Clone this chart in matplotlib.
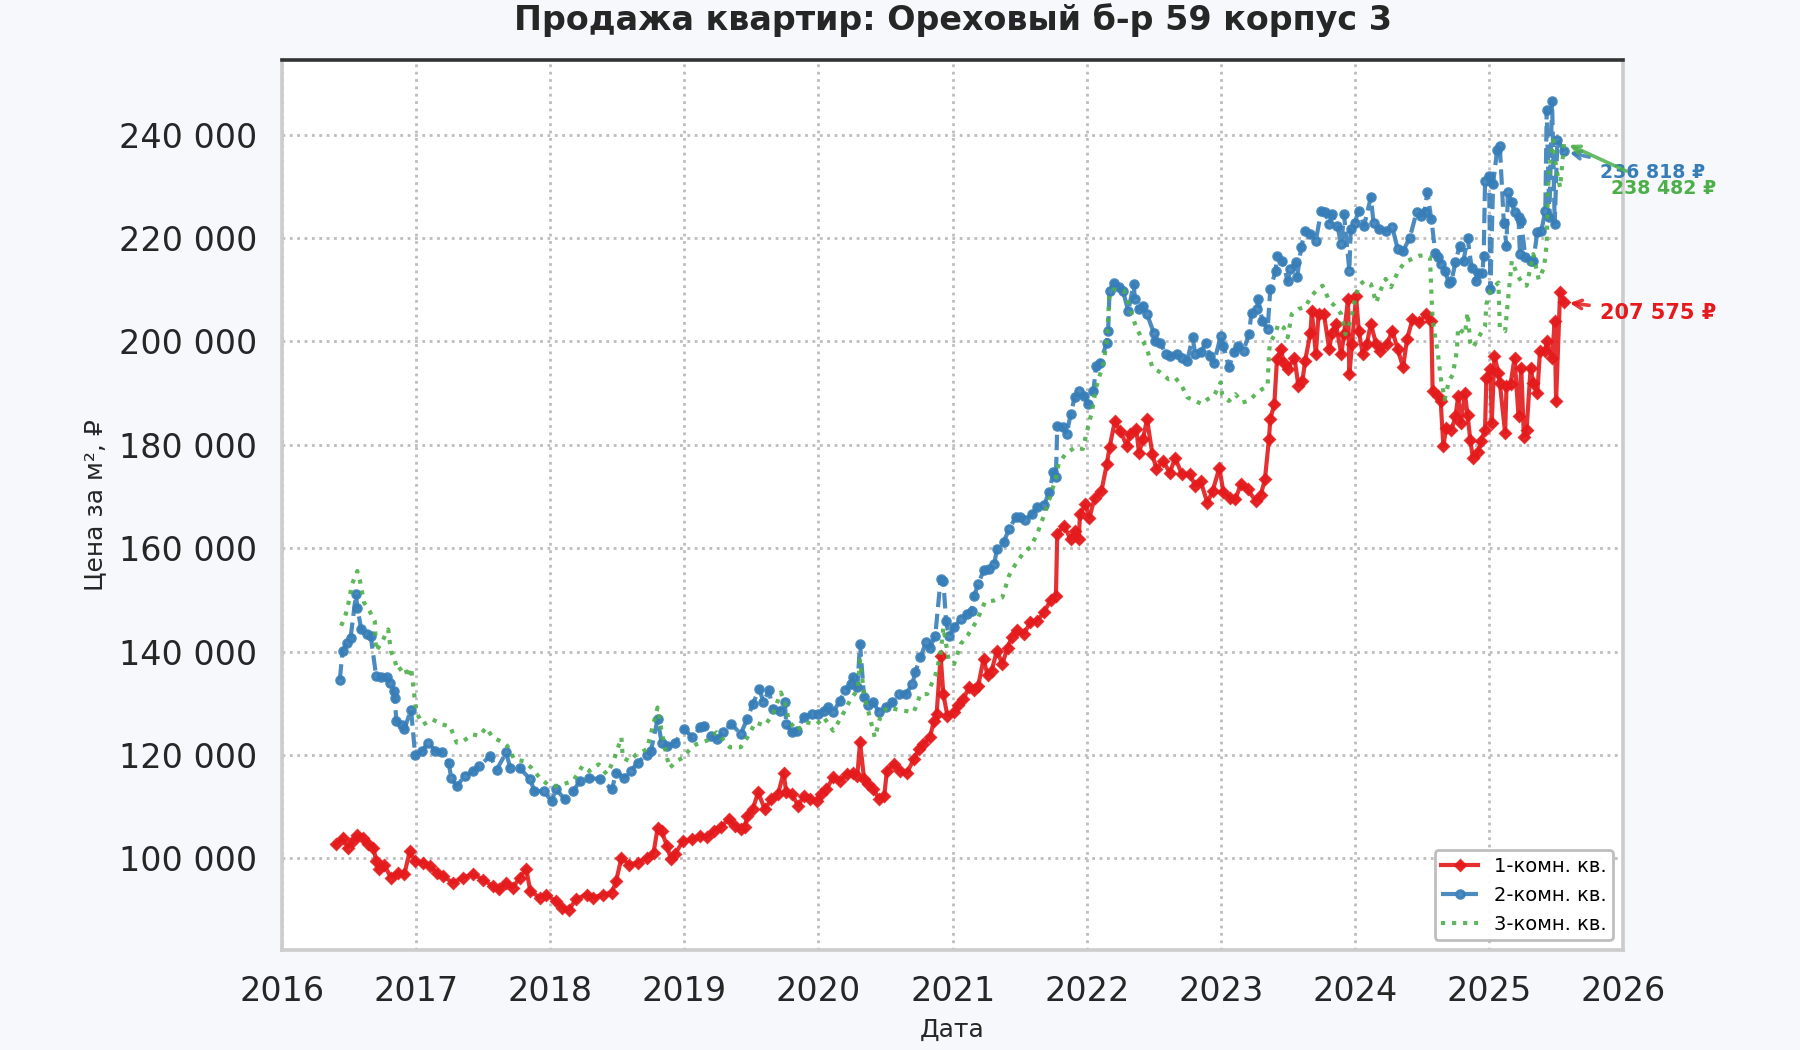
import numpy as np
import pandas as pd
import matplotlib
matplotlib.use("Agg")
import matplotlib.pyplot as plt
import matplotlib.dates as mdates
from matplotlib.ticker import FuncFormatter

# decimal years and prices (thousand rub per m2)
t1 = [2016.40, 2016.45, 2016.49, 2016.53, 2016.56, 2016.60, 2016.64, 2016.68, 2016.70, 2016.72,
      2016.76, 2016.81, 2016.86, 2016.91, 2016.95, 2016.99, 2017.05, 2017.10, 2017.15, 2017.20,
      2017.27, 2017.35, 2017.42, 2017.50, 2017.57, 2017.62, 2017.67, 2017.72, 2017.77, 2017.82,
      2017.85, 2017.92, 2017.97, 2018.04, 2018.09, 2018.14, 2018.19, 2018.27, 2018.32, 2018.39,
      2018.46, 2018.49, 2018.53, 2018.59, 2018.65, 2018.72, 2018.77, 2018.80, 2018.83, 2018.87,
      2018.90, 2018.93, 2018.99, 2019.06, 2019.12, 2019.17, 2019.22, 2019.27, 2019.33, 2019.38,
      2019.42, 2019.45, 2019.47, 2019.51, 2019.55, 2019.60, 2019.65, 2019.70, 2019.74, 2019.76,
      2019.80, 2019.85, 2019.89, 2019.94, 2019.99, 2020.02, 2020.06, 2020.11, 2020.16, 2020.21,
      2020.26, 2020.29, 2020.31, 2020.34, 2020.37, 2020.41, 2020.45, 2020.49, 2020.51, 2020.56,
      2020.61, 2020.66, 2020.71, 2020.75, 2020.78, 2020.83, 2020.86, 2020.88, 2020.91, 2020.93,
      2020.96, 2021.01, 2021.04, 2021.08, 2021.12, 2021.16, 2021.19, 2021.23, 2021.26, 2021.29,
      2021.33, 2021.37, 2021.41, 2021.44, 2021.48, 2021.53, 2021.58, 2021.63, 2021.68, 2021.73,
      2021.77, 2021.78, 2021.83, 2021.88, 2021.91, 2021.94, 2021.95, 2021.99, 2022.02, 2022.06,
      2022.11, 2022.15, 2022.17, 2022.21, 2022.25, 2022.30, 2022.32, 2022.37, 2022.39, 2022.42,
      2022.45, 2022.49, 2022.52, 2022.57, 2022.62, 2022.66, 2022.71, 2022.77, 2022.81, 2022.85,
      2022.90, 2022.94, 2022.99, 2023.02, 2023.07, 2023.11, 2023.15, 2023.20, 2023.26, 2023.30,
      2023.33, 2023.36, 2023.37, 2023.40, 2023.42, 2023.45, 2023.47, 2023.50, 2023.55, 2023.58,
      2023.61, 2023.63, 2023.67, 2023.68, 2023.71, 2023.73, 2023.77, 2023.81, 2023.83, 2023.86,
      2023.90, 2023.92, 2023.95, 2023.96, 2023.98, 2024.01, 2024.03, 2024.06, 2024.09, 2024.12,
      2024.16, 2024.19, 2024.24, 2024.28, 2024.32, 2024.36, 2024.39, 2024.43, 2024.48, 2024.53,
      2024.57, 2024.58, 2024.62, 2024.64, 2024.66, 2024.68, 2024.72, 2024.75, 2024.77, 2024.79,
      2024.82, 2024.84, 2024.86, 2024.88, 2024.92, 2024.94, 2024.97, 2024.98, 2025.01, 2025.02,
      2025.04, 2025.07, 2025.08, 2025.12, 2025.13, 2025.16, 2025.19, 2025.22, 2025.24, 2025.26,
      2025.28, 2025.31, 2025.33, 2025.36, 2025.38, 2025.42, 2025.43, 2025.47, 2025.49, 2025.50,
      2025.53, 2025.56]
v1 = [102.7, 104.0, 102.1, 103.4, 104.5, 104.0, 102.7, 102.1, 99.5, 97.9,
      98.8, 96.3, 97.2, 96.9, 101.4, 99.5, 99.2, 98.5, 97.2, 96.6,
      95.3, 96.3, 96.9, 95.9, 94.6, 94.0, 95.3, 94.3, 96.3, 97.9,
      93.7, 92.4, 93.0, 91.7, 90.5, 90.1, 92.1, 93.0, 92.4, 93.0,
      93.4, 95.6, 100.1, 98.8, 99.2, 100.1, 101.1, 105.9, 105.3, 102.4,
      99.8, 100.8, 103.4, 103.7, 104.4, 104.1, 105.4, 106.0, 107.6, 106.3,
      105.7, 106.0, 108.3, 109.5, 112.8, 109.5, 111.5, 112.5, 116.6, 112.8,
      112.5, 110.2, 112.1, 111.5, 111.2, 112.5, 113.4, 115.7, 115.0, 116.3,
      116.6, 116.0, 122.5, 115.4, 114.4, 113.4, 111.5, 112.1, 117.0, 118.3,
      117.0, 116.6, 119.2, 121.2, 122.1, 123.4, 126.6, 127.9, 139.2, 131.8,
      127.6, 128.3, 129.6, 130.8, 133.1, 132.5, 133.4, 138.6, 135.4, 136.3,
      140.2, 137.6, 140.8, 142.8, 144.1, 143.4, 145.7, 146.0, 147.6, 149.9,
      150.8, 162.8, 164.4, 161.7, 163.4, 161.7, 166.6, 168.5, 165.9, 169.8,
      171.1, 176.3, 179.5, 184.6, 182.7, 179.8, 182.1, 183.0, 178.5, 181.1,
      185.0, 178.2, 175.3, 176.9, 174.6, 177.5, 174.3, 174.3, 172.1, 173.0,
      168.8, 171.1, 175.6, 170.8, 169.8, 169.5, 172.4, 171.4, 169.2, 170.4,
      173.4, 181.1, 185.0, 187.9, 196.6, 198.5, 195.9, 194.6, 196.9, 191.4,
      192.4, 196.3, 201.7, 205.9, 197.5, 205.3, 205.3, 198.5, 201.7, 203.4,
      197.5, 201.4, 208.2, 193.7, 199.5, 208.8, 202.1, 197.5, 199.5, 203.4,
      199.5, 198.2, 199.5, 202.1, 198.5, 195.0, 200.5, 204.3, 203.7, 205.3,
      204.0, 190.4, 189.4, 188.4, 179.7, 183.3, 182.9, 185.5, 189.4, 184.2,
      190.0, 185.8, 181.0, 177.4, 178.7, 180.7, 182.9, 193.0, 194.6, 184.2,
      197.2, 193.9, 192.0, 182.3, 191.3, 191.7, 196.8, 185.5, 194.9, 181.6,
      182.9, 194.9, 192.0, 190.0, 198.1, 198.1, 200.1, 196.8, 204.0, 188.4,
      209.5, 207.575]

t2 = [2016.43, 2016.45, 2016.48, 2016.51, 2016.55, 2016.56, 2016.59, 2016.63, 2016.66, 2016.70,
      2016.74, 2016.78, 2016.80, 2016.83, 2016.84, 2016.85, 2016.89, 2016.91, 2016.96, 2016.99,
      2017.04, 2017.09, 2017.14, 2017.19, 2017.24, 2017.26, 2017.30, 2017.36, 2017.42, 2017.47,
      2017.55, 2017.60, 2017.67, 2017.70, 2017.77, 2017.85, 2017.88, 2017.95, 2018.01, 2018.04,
      2018.11, 2018.17, 2018.22, 2018.29, 2018.37, 2018.46, 2018.49, 2018.55, 2018.60, 2018.65,
      2018.72, 2018.75, 2018.80, 2018.83, 2018.87, 2018.93, 2019.00, 2019.06, 2019.12, 2019.15,
      2019.20, 2019.24, 2019.29, 2019.35, 2019.42, 2019.47, 2019.51, 2019.56, 2019.59, 2019.63,
      2019.66, 2019.71, 2019.75, 2019.76, 2019.80, 2019.84, 2019.89, 2019.95, 2020.00, 2020.04,
      2020.07, 2020.11, 2020.16, 2020.20, 2020.24, 2020.26, 2020.29, 2020.31, 2020.34, 2020.37,
      2020.41, 2020.45, 2020.50, 2020.55, 2020.60, 2020.65, 2020.70, 2020.72, 2020.76, 2020.80,
      2020.83, 2020.87, 2020.91, 2020.93, 2020.95, 2020.97, 2021.01, 2021.06, 2021.11, 2021.14,
      2021.16, 2021.19, 2021.23, 2021.27, 2021.31, 2021.33, 2021.38, 2021.42, 2021.47, 2021.50,
      2021.54, 2021.59, 2021.63, 2021.68, 2021.72, 2021.75, 2021.77, 2021.78, 2021.82, 2021.85,
      2021.88, 2021.91, 2021.94, 2021.98, 2022.01, 2022.05, 2022.07, 2022.10, 2022.15, 2022.16,
      2022.17, 2022.20, 2022.24, 2022.27, 2022.31, 2022.35, 2022.36, 2022.39, 2022.42, 2022.45,
      2022.50, 2022.51, 2022.55, 2022.59, 2022.62, 2022.67, 2022.71, 2022.75, 2022.79, 2022.81,
      2022.85, 2022.89, 2022.92, 2022.95, 2023.00, 2023.02, 2023.06, 2023.10, 2023.13, 2023.17,
      2023.21, 2023.23, 2023.27, 2023.28, 2023.31, 2023.35, 2023.37, 2023.41, 2023.42, 2023.46,
      2023.50, 2023.52, 2023.56, 2023.57, 2023.60, 2023.63, 2023.67, 2023.71, 2023.75, 2023.78,
      2023.81, 2023.83, 2023.87, 2023.90, 2023.92, 2023.96, 2023.97, 2024.00, 2024.03, 2024.07,
      2024.12, 2024.14, 2024.18, 2024.23, 2024.28, 2024.32, 2024.36, 2024.41, 2024.46, 2024.49,
      2024.52, 2024.54, 2024.57, 2024.60, 2024.62, 2024.64, 2024.67, 2024.70, 2024.72, 2024.75,
      2024.78, 2024.81, 2024.84, 2024.87, 2024.90, 2024.92, 2024.95, 2024.96, 2024.97, 2025.00,
      2025.01, 2025.03, 2025.06, 2025.08, 2025.11, 2025.13, 2025.14, 2025.17, 2025.19, 2025.22,
      2025.23, 2025.24, 2025.27, 2025.31, 2025.33, 2025.36, 2025.39, 2025.42, 2025.43, 2025.45,
      2025.47, 2025.49, 2025.51, 2025.56]
v2 = [134.6, 140.1, 141.7, 142.7, 151.1, 148.5, 144.3, 143.4, 143.0, 135.3,
      135.0, 135.0, 134.0, 132.4, 131.1, 126.6, 125.9, 125.0, 128.8, 120.1,
      120.8, 122.4, 120.8, 120.5, 118.5, 115.6, 114.0, 115.9, 116.9, 117.9,
      119.8, 117.2, 120.5, 117.5, 117.5, 115.3, 113.0, 113.0, 111.1, 113.4,
      111.4, 113.0, 115.0, 115.6, 115.3, 113.4, 116.6, 115.6, 116.9, 118.5,
      120.1, 120.8, 126.9, 122.4, 121.7, 122.4, 125.0, 123.4, 125.4, 125.7,
      123.7, 123.1, 124.4, 126.0, 124.1, 127.0, 129.9, 132.8, 130.2, 132.5,
      128.9, 128.6, 130.2, 126.0, 124.4, 124.7, 127.3, 127.9, 127.9, 128.6,
      129.2, 128.3, 130.5, 132.5, 133.7, 135.0, 133.1, 141.5, 131.2, 129.6,
      130.2, 128.3, 129.2, 130.2, 131.8, 131.8, 133.7, 136.0, 138.9, 141.8,
      140.8, 143.1, 154.1, 153.7, 146.0, 143.1, 144.7, 146.3, 147.3, 147.9,
      150.8, 153.1, 155.7, 156.0, 157.0, 159.9, 161.2, 163.7, 166.0, 166.0,
      165.4, 166.6, 167.9, 168.3, 170.8, 174.7, 173.7, 183.7, 183.4, 182.1,
      185.9, 189.2, 190.5, 189.5, 187.9, 190.5, 195.3, 195.9, 199.8, 202.1,
      209.8, 211.4, 210.5, 209.8, 205.9, 211.1, 208.2, 206.3, 206.9, 205.3,
      201.7, 200.1, 199.8, 197.5, 197.2, 197.5, 196.9, 196.3, 200.8, 197.5,
      197.9, 199.8, 197.2, 195.9, 201.1, 199.2, 195.0, 197.9, 199.2, 198.2,
      201.4, 205.6, 206.3, 208.2, 204.0, 202.4, 210.1, 213.7, 216.6, 215.6,
      211.7, 214.0, 215.3, 212.4, 218.2, 221.4, 220.8, 219.5, 225.3, 225.0,
      222.7, 224.6, 222.4, 218.8, 224.6, 213.7, 221.7, 223.0, 225.3, 222.4,
      227.9, 223.0, 221.7, 221.4, 222.1, 217.9, 217.5, 220.1, 225.0, 224.3,
      225.0, 228.9, 223.7, 217.2, 216.3, 215.0, 213.7, 211.4, 211.7, 215.3,
      218.5, 215.6, 220.1, 214.3, 211.7, 213.3, 213.3, 216.6, 231.1, 232.1,
      210.1, 230.5, 237.0, 237.9, 223.0, 218.5, 228.9, 226.9, 225.0, 224.0,
      216.9, 223.4, 216.3, 215.6, 215.6, 221.1, 221.4, 225.3, 244.8, 224.0,
      246.6, 222.8, 239.0, 236.818]

t3 = [2016.44, 2016.47, 2016.49, 2016.52, 2016.56, 2016.58, 2016.61, 2016.65, 2016.69, 2016.70,
      2016.74, 2016.79, 2016.81, 2016.84, 2016.86, 2016.91, 2016.94, 2016.96, 2016.99, 2017.00,
      2017.05, 2017.12, 2017.19, 2017.25, 2017.30, 2017.35, 2017.42, 2017.47, 2017.52, 2017.57,
      2017.65, 2017.68, 2017.73, 2017.80, 2017.86, 2017.92, 2017.98, 2018.04, 2018.09, 2018.17,
      2018.24, 2018.29, 2018.36, 2018.42, 2018.47, 2018.53, 2018.54, 2018.59, 2018.64, 2018.72,
      2018.80, 2018.83, 2018.87, 2018.89, 2018.94, 2018.99, 2019.05, 2019.09, 2019.17, 2019.24,
      2019.34, 2019.42, 2019.47, 2019.53, 2019.60, 2019.66, 2019.72, 2019.75, 2019.78, 2019.84,
      2019.91, 2019.99, 2020.04, 2020.11, 2020.17, 2020.24, 2020.29, 2020.31, 2020.34, 2020.39,
      2020.42, 2020.46, 2020.51, 2020.57, 2020.63, 2020.71, 2020.76, 2020.81, 2020.87, 2020.91,
      2020.93, 2020.97, 2021.01, 2021.06, 2021.11, 2021.18, 2021.24, 2021.31, 2021.37, 2021.42,
      2021.47, 2021.53, 2021.58, 2021.63, 2021.68, 2021.73, 2021.77, 2021.79, 2021.84, 2021.91,
      2021.97, 2022.01, 2022.04, 2022.07, 2022.10, 2022.12, 2022.15, 2022.17, 2022.20, 2022.25,
      2022.28, 2022.32, 2022.36, 2022.40, 2022.45, 2022.49, 2022.55, 2022.61, 2022.66, 2022.71,
      2022.75, 2022.81, 2022.86, 2022.90, 2022.95, 2023.00, 2023.01, 2023.06, 2023.11, 2023.16,
      2023.21, 2023.26, 2023.31, 2023.35, 2023.36, 2023.37, 2023.41, 2023.43, 2023.47, 2023.50,
      2023.53, 2023.58, 2023.63, 2023.67, 2023.71, 2023.76, 2023.81, 2023.85, 2023.90, 2023.93,
      2023.97, 2024.00, 2024.03, 2024.07, 2024.12, 2024.16, 2024.19, 2024.23, 2024.27, 2024.32,
      2024.37, 2024.42, 2024.48, 2024.51, 2024.56, 2024.57, 2024.58, 2024.62, 2024.64, 2024.67,
      2024.70, 2024.73, 2024.76, 2024.77, 2024.82, 2024.84, 2024.86, 2024.88, 2024.92, 2024.97,
      2024.98, 2025.01, 2025.07, 2025.08, 2025.12, 2025.14, 2025.17, 2025.21, 2025.25, 2025.28,
      2025.33, 2025.37, 2025.41, 2025.43, 2025.44, 2025.46, 2025.48, 2025.50, 2025.53, 2025.56]
v3 = [145.0, 146.9, 148.8, 153.0, 155.6, 153.7, 149.5, 147.9, 145.9, 140.1,
      141.7, 144.3, 140.1, 138.2, 136.3, 137.2, 135.0, 136.9, 130.5, 128.2,
      125.9, 126.9, 125.9, 125.6, 122.4, 122.7, 124.0, 123.7, 125.3, 123.4,
      122.4, 121.7, 119.2, 118.8, 117.5, 115.6, 114.3, 114.0, 114.3, 115.0,
      117.9, 116.9, 118.2, 116.3, 118.8, 123.4, 119.5, 118.8, 120.1, 121.1,
      129.2, 124.6, 119.5, 117.5, 118.8, 119.5, 121.4, 122.1, 122.8, 124.4,
      121.5, 121.5, 123.4, 126.3, 125.7, 127.9, 132.1, 130.2, 126.6, 124.7,
      126.3, 126.0, 127.3, 124.7, 127.3, 130.8, 132.5, 138.3, 131.8, 126.6,
      123.4, 127.3, 129.2, 128.9, 128.6, 128.3, 131.8, 131.8, 135.4, 139.6,
      144.7, 138.3, 137.6, 141.5, 143.1, 146.0, 149.6, 149.9, 150.5, 154.7,
      157.0, 159.2, 160.2, 162.8, 166.3, 170.2, 173.7, 176.3, 178.2, 179.5,
      179.2, 183.4, 186.6, 191.1, 193.7, 195.0, 200.1, 209.2, 210.1, 209.8,
      209.8, 206.6, 203.4, 201.1, 198.5, 195.0, 194.0, 192.7, 193.0, 191.4,
      189.2, 188.5, 187.9, 188.8, 189.5, 192.1, 189.8, 188.5, 189.8, 188.2,
      188.5, 189.8, 190.8, 191.4, 197.9, 199.8, 201.7, 203.4, 202.7, 200.8,
      205.3, 206.3, 206.6, 208.5, 209.8, 210.8, 207.9, 206.9, 205.3, 201.4,
      204.0, 207.9, 210.8, 211.7, 211.1, 207.5, 209.8, 212.1, 210.5, 213.4,
      215.3, 215.9, 216.6, 216.6, 216.3, 209.8, 204.0, 197.5, 193.0, 188.8,
      192.3, 193.6, 198.1, 202.7, 201.4, 205.6, 199.8, 198.8, 200.7, 203.0,
      207.2, 209.8, 211.4, 202.7, 202.0, 207.8, 215.6, 213.0, 211.1, 210.8,
      216.9, 212.0, 214.3, 218.8, 229.8, 235.7, 238.9, 233.7, 229.8, 238.482]

labels = ["1-комн. кв.", "2-комн. кв.", "3-комн. кв."]
colors = ["#e41a1c", "#377eb8", "#4daf4a"]
title = "Продажа квартир: Ореховый б-р 59 корпус 3"


def to_dates(years):
    out = []
    for y in years:
        yr = int(y)
        start = pd.Timestamp(yr, 1, 1)
        out.append(start + (pd.Timestamp(yr + 1, 1, 1) - start) * (y - yr))
    return out


def rub(v):
    return f"{int(round(v)):,}".replace(",", " ")


fig = plt.figure(figsize=(9, 5.25), dpi=200, facecolor="#f6f8fc")
ax = fig.add_axes([0.1567, 0.0952, 0.745, 0.8475])
ax.set_facecolor("white")

series = [(t1, v1, "-", "D", 2.6), (t2, v2, "--", "o", 2.8), (t3, v3, ":", None, 0)]
for (t, v, ls, mk, ms), lab, c in zip(series, labels, colors):
    ax.plot(to_dates(t), np.array(v) * 1000, linestyle=ls, marker=mk, markersize=ms,
            color=c, lw=1.5, alpha=0.9, label=lab)

# last values
offsets = [(13, -4), (13, -7.5), (17, -16.5)]
sizes = [7.5, 6.8, 6.8]
for (t, v, *_), c, off, fs in zip(series, colors, offsets, sizes):
    last = v[-1] * 1000
    ax.annotate(f"{rub(last)} ₽", xy=(to_dates([t[-1]])[0], last), xytext=off,
                textcoords="offset points", ha="left", va="center", fontsize=fs,
                fontweight="bold", color=c,
                arrowprops=dict(arrowstyle="->", color=c, lw=1.3, alpha=0.85))

ax.set_xlim(pd.Timestamp("2016-01-01"), pd.Timestamp("2026-01-01"))
ax.xaxis.set_major_locator(mdates.YearLocator())
ax.xaxis.set_major_formatter(mdates.DateFormatter("%Y"))
ax.yaxis.set_major_formatter(FuncFormatter(lambda x, p: rub(x)))
ax.tick_params(axis="both", length=0, pad=9, labelsize=12, labelcolor="#262626")

ax.grid(True, linestyle=":", color="#bdbdbd", lw=1.0)
for side in ["left", "bottom", "right"]:
    ax.spines[side].set_color("#cccccc")
    ax.spines[side].set_linewidth(1.3)
ax.spines["top"].set_color("#333333")
ax.spines["top"].set_linewidth(1.3)

ax.set_xlabel("Дата", fontsize=9, color="#262626", labelpad=3.5)
ax.set_ylabel("Цена за м², ₽", fontsize=9, color="#262626", labelpad=4)
ax.set_title(title, fontsize=12, fontweight="bold", color="#262626", pad=11)

leg = ax.legend(loc="lower right", fontsize=7, frameon=True, framealpha=0.95,
                edgecolor="#bbbbbb", fancybox=True, handlelength=1.9, borderpad=0.35)
leg.get_frame().set_linewidth(1.0)

fig.savefig("out.png", dpi=200, facecolor=fig.get_facecolor())
